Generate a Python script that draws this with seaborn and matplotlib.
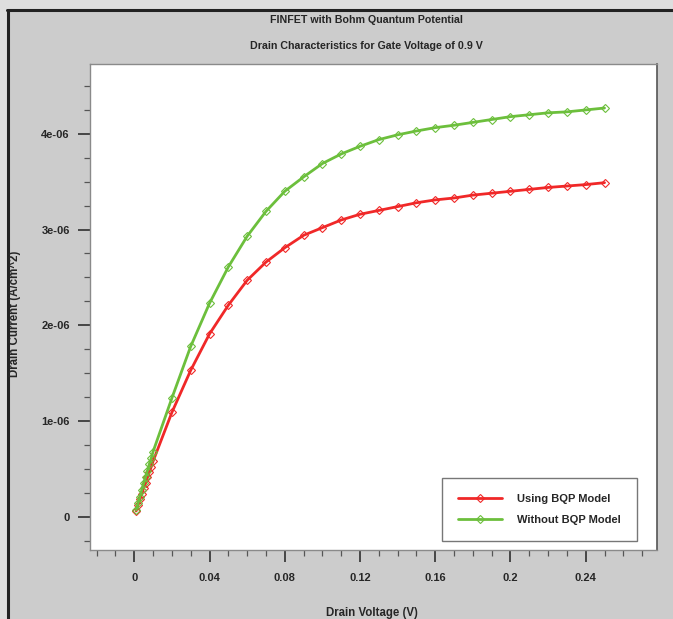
import numpy as np
import pandas as pd
import matplotlib
matplotlib.use("Agg")
import matplotlib.pyplot as plt
from matplotlib.lines import Line2D
from matplotlib.patches import Rectangle
from matplotlib.ticker import MultipleLocator, FuncFormatter
import seaborn as sns

# Drain voltage sweep (V)
drain_voltage = [0.001, 0.002, 0.003, 0.004, 0.005, 0.006, 0.007, 0.008, 0.009, 0.010,
                 0.02, 0.03, 0.04, 0.05, 0.06, 0.07, 0.08, 0.09, 0.10, 0.11, 0.12,
                 0.13, 0.14, 0.15, 0.16, 0.17, 0.18, 0.19, 0.20, 0.21, 0.22, 0.23,
                 0.24, 0.25]

# Drain current (x1e-6 A/cm^2)
current_bqp = [0.06, 0.12, 0.18, 0.24, 0.30, 0.35, 0.41, 0.47, 0.52, 0.58,
               1.09, 1.53, 1.91, 2.21, 2.47, 2.66, 2.81, 2.94, 3.02, 3.10, 3.16,
               3.20, 3.24, 3.28, 3.31, 3.33, 3.36, 3.38, 3.40, 3.42, 3.44, 3.455,
               3.47, 3.49]
current_no_bqp = [0.07, 0.14, 0.21, 0.28, 0.35, 0.41, 0.48, 0.55, 0.61, 0.68,
                  1.24, 1.78, 2.23, 2.61, 2.93, 3.19, 3.40, 3.55, 3.69, 3.79, 3.87,
                  3.94, 3.99, 4.03, 4.065, 4.09, 4.12, 4.15, 4.18, 4.20, 4.22, 4.23,
                  4.25, 4.27]

series_names = ["Using BQP Model", "Without BQP Model"]
series_colors = ["#f02828", "#6cbf3c"]

df = pd.DataFrame({
    "Vd": drain_voltage * 2,
    "Id": np.array(current_bqp + current_no_bqp) * 1e-6,
    "Model": [series_names[0]] * len(drain_voltage) + [series_names[1]] * len(drain_voltage),
})

sns.set_style("white")
plt.rcParams["font.family"] = ["Liberation Sans", "DejaVu Sans"]
plt.rcParams["font.weight"] = "bold"

fig = plt.figure(figsize=(6.73, 6.19), dpi=100, facecolor="#dedede")
W, H = 673, 619

# grey panel with dark left/top edges
fig.patches.append(Rectangle((7 / W, 0), 1 - 7 / W, 1 - 9.5 / H, transform=fig.transFigure,
                             facecolor="#cccccc", edgecolor="none", zorder=-10))
fig.add_artist(Line2D([7.5 / W, 7.5 / W], [0, 1 - 9.5 / H], transform=fig.transFigure,
                      color="#222222", lw=2.2))
fig.add_artist(Line2D([6.5 / W, 1], [1 - 9.5 / H, 1 - 9.5 / H], transform=fig.transFigure,
                      color="#222222", lw=2.2))

ax = fig.add_axes([90 / W, 1 - 550 / H, 567 / W, 486 / H])
ax.set_facecolor("white")

for name, color in zip(series_names, series_colors):
    sub = df[df["Model"] == name]
    sns.lineplot(data=sub, x="Vd", y="Id", ax=ax, color=color, lw=2.0, label=name,
                 marker="D", markersize=4, markerfacecolor="none",
                 markeredgecolor=color, markeredgewidth=0.8)

ax.set_xlim(-0.02355, 0.2779)
ax.set_ylim(-0.348e-6, 4.73e-6)

ax.xaxis.set_major_locator(MultipleLocator(0.04))
ax.xaxis.set_minor_locator(MultipleLocator(0.01))
ax.yaxis.set_major_locator(MultipleLocator(1e-6))
ax.yaxis.set_minor_locator(MultipleLocator(0.25e-6))
ax.xaxis.set_major_formatter(FuncFormatter(lambda v, p: "0" if abs(v) < 1e-9 else "%g" % round(v, 2)))
ax.yaxis.set_major_formatter(FuncFormatter(lambda v, p: "0" if abs(v) < 1e-12 else "%.0e" % v))

ax.tick_params(axis="both", which="both", bottom=True, left=True, top=False, right=False)
ax.tick_params(axis="both", which="major", direction="out", length=8.5, width=1.1,
               color="#222222", labelsize=8, pad=6)
ax.tick_params(axis="both", which="minor", direction="out", length=4.5, width=0.9,
               color="#555555")
ax.tick_params(axis="x", which="major", pad=8)
for lab in ax.get_xticklabels() + ax.get_yticklabels():
    lab.set_fontweight("bold")

for side in ["left", "top", "bottom"]:
    ax.spines[side].set_color("#8a8a8a")
    ax.spines[side].set_linewidth(1.0)
ax.spines["right"].set_color("#555555")
ax.spines["right"].set_linewidth(1.2)

ax.set_xlabel("")
ax.set_ylabel("")
fig.text(372 / W, 1 - 613 / H, "Drain Voltage (V)", ha="center", va="center",
         fontsize=8.3, fontweight="bold")
fig.text(15 / W, 1 - 314 / H, "Drain Current (A/cm^2)", ha="center", va="center",
         rotation=90, fontsize=8.3, fontweight="bold")
fig.text(366 / W, 1 - 20 / H, "FINFET with Bohm Quantum Potential", ha="center",
         va="center", fontsize=7.7, fontweight="bold")
fig.text(366 / W, 1 - 46 / H, "Drain Characteristics for Gate Voltage of 0.9 V",
         ha="center", va="center", fontsize=7.7, fontweight="bold")

leg = ax.legend(loc="lower right", bbox_to_anchor=(637 / W, 1 - 541 / H),
                bbox_transform=fig.transFigure, frameon=True, fancybox=False,
                fontsize=8, handlelength=4.0, handletextpad=1.35, borderpad=1.45,
                labelspacing=0.95, borderaxespad=0)
leg.get_frame().set_edgecolor("#555555")
leg.get_frame().set_linewidth(1.0)
for t in leg.get_texts():
    t.set_fontweight("bold")

fig.savefig("out.png", dpi=100, facecolor=fig.get_facecolor())
